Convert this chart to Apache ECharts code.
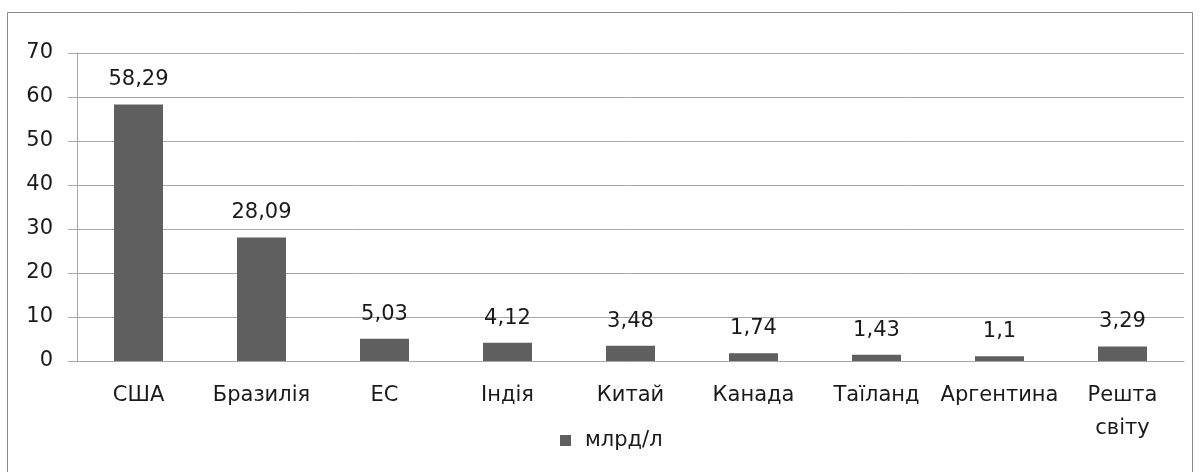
<!DOCTYPE html>
<html>
<head>
<meta charset="utf-8">
<script src="https://cdn.jsdelivr.net/npm/echarts@6/dist/echarts.min.js"></script>
<style>
  html, body { margin: 0; padding: 0; background: #fff; }
  #chart { width: 1200px; height: 472px; }
</style>
</head>
<body>
<div id="chart"></div>
<script>
const categories = ['США', 'Бразилія', 'ЕС', 'Індія', 'Китай', 'Канада', 'Таїланд', 'Аргентина', 'Решта\nсвіту']
const values = [58.29, 28.09, 5.03, 4.12, 3.48, 1.74, 1.43, 1.1, 3.29]
const seriesName = 'млрд/л'

const font = '"DejaVu Sans", "Open Sans", sans-serif'
const textColor = '#1a1a1a'
const lineColor = '#a6a6a6'
const barColor = '#5f5f5f'
const fontSize = 21

const chart = echarts.init(document.getElementById('chart'))

chart.setOption({
  animation: false,
  textStyle: { fontFamily: font },
  graphic: [{
    type: 'rect',
    shape: { x: 7.5, y: 12.5, width: 1185, height: 470 },
    style: { fill: 'none', stroke: '#888', lineWidth: 1 },
    silent: true,
  }],
  legend: {
    data: [seriesName],
    top: 425,
    left: 555,
    itemWidth: 11,
    itemHeight: 11,
    icon: 'rect',
    textStyle: { color: textColor, fontSize: fontSize, fontFamily: font, padding: [0, 0, 0, 9] },
  },
  grid: { left: 77, right: 16, top: 53, bottom: 111 },
  xAxis: {
    type: 'category',
    data: categories,
    axisLine: { lineStyle: { color: lineColor } },
    axisTick: { length: 8, lineStyle: { color: lineColor } },
    axisLabel: { color: textColor, fontSize: fontSize, margin: 18, lineHeight: 33, interval: 0, fontFamily: font },
  },
  yAxis: {
    type: 'value',
    min: 0,
    max: 70,
    interval: 10,
    axisLine: { show: true, lineStyle: { color: lineColor } },
    axisTick: { show: true, length: 9, lineStyle: { color: lineColor } },
    axisLabel: { color: textColor, fontSize: fontSize, margin: 24, fontFamily: font },
    splitLine: { lineStyle: { color: lineColor } },
  },
  series: [{
    name: seriesName,
    type: 'bar',
    data: values,
    barWidth: 49,
    itemStyle: { color: barColor },
    label: {
      show: true,
      position: 'top',
      distance: 14,
      color: textColor,
      fontSize: fontSize,
      fontFamily: font,
      formatter: p => String(p.value).replace('.', ','),
    },
  }],
})
</script>
</body>
</html>
